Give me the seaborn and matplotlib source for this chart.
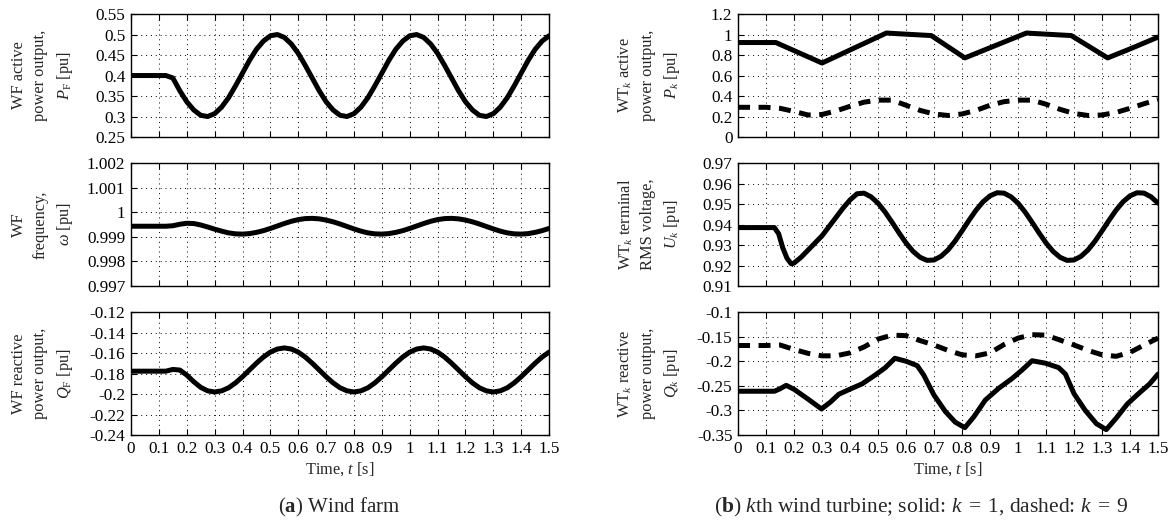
import numpy as np
import pandas as pd
import matplotlib
matplotlib.use("Agg")
import matplotlib.pyplot as plt
import seaborn as sns

# values

# shared 25 ms time grid for the wind farm traces
t_grid = np.round(np.arange(0, 1.5001, 0.025), 3)

wf_p = [0.4, 0.4, 0.4, 0.4, 0.4, 0.4, 0.394, 0.363, 0.336, 0.316, 0.303, 0.300,
        0.307, 0.323, 0.346, 0.375, 0.406, 0.437, 0.464, 0.484, 0.497, 0.500,
        0.493, 0.477, 0.454, 0.425, 0.394, 0.363, 0.336, 0.316, 0.303, 0.300,
        0.307, 0.323, 0.346, 0.375, 0.406, 0.437, 0.464, 0.484, 0.497, 0.500,
        0.493, 0.477, 0.454, 0.425, 0.394, 0.363, 0.336, 0.316, 0.303, 0.300,
        0.307, 0.323, 0.346, 0.375, 0.406, 0.437, 0.464, 0.484, 0.497]

wf_w = [0.99943, 0.99943, 0.99943, 0.99943, 0.99943, 0.99943, 0.99945, 0.99951,
        0.99955, 0.99954, 0.99948, 0.99940, 0.99931, 0.99923, 0.99916, 0.99912,
        0.99911, 0.99913, 0.99918, 0.99925, 0.99934, 0.99944, 0.99954, 0.99963,
        0.99970, 0.99974, 0.99975, 0.99973, 0.99968, 0.99961, 0.99952, 0.99942,
        0.99932, 0.99923, 0.99916, 0.99912, 0.99911, 0.99913, 0.99918, 0.99925,
        0.99934, 0.99944, 0.99954, 0.99963, 0.99970, 0.99974, 0.99975, 0.99973,
        0.99968, 0.99961, 0.99952, 0.99942, 0.99932, 0.99923, 0.99916, 0.99912,
        0.99911, 0.99913, 0.99918, 0.99925, 0.99934]

wf_q = [-0.1777, -0.1777, -0.1777, -0.1777, -0.1777, -0.1777, -0.1760, -0.1766,
        -0.1815, -0.1880, -0.1935, -0.1969, -0.1980, -0.1969, -0.1939, -0.1891,
        -0.1831, -0.1765, -0.1699, -0.1639, -0.1591, -0.1561, -0.1550, -0.1561,
        -0.1591, -0.1639, -0.1699, -0.1765, -0.1831, -0.1891, -0.1939, -0.1969,
        -0.1980, -0.1969, -0.1939, -0.1891, -0.1831, -0.1765, -0.1699, -0.1639,
        -0.1591, -0.1561, -0.1550, -0.1561, -0.1591, -0.1639, -0.1699, -0.1765,
        -0.1831, -0.1891, -0.1939, -0.1969, -0.1980, -0.1969, -0.1939, -0.1891,
        -0.1831, -0.1765, -0.1699, -0.1639, -0.1591]

# turbine k=1 active power (solid)
t_pk1 = [0, 0.135, 0.3, 0.53, 0.545, 0.69, 0.81, 1.03, 1.045, 1.19, 1.32, 1.4, 1.5]
pk1 = [0.922, 0.922, 0.722, 1.015, 1.012, 0.99, 0.772, 1.015, 1.012, 0.99, 0.772, 0.86, 0.975]

# turbine k=9 active power (dashed), 50 ms steps
t_50 = np.round(np.arange(0, 1.5001, 0.05), 2)
pk9 = [0.29, 0.29, 0.29, 0.28, 0.25, 0.215, 0.22, 0.255, 0.30, 0.34, 0.36,
       0.36, 0.31, 0.26, 0.225, 0.21, 0.225, 0.26, 0.31, 0.345, 0.36, 0.36,
       0.32, 0.27, 0.23, 0.21, 0.215, 0.24, 0.28, 0.325, 0.365]

# turbine terminal voltage
t_uk = np.concatenate([[0, 0.05, 0.1, 0.13, 0.145, 0.16, 0.175, 0.19],
                       np.round(np.arange(0.2, 1.5001, 0.025), 3)])
uk1 = [0.9385, 0.9385, 0.9385, 0.9385, 0.9355, 0.9285, 0.9235, 0.9208,
       0.9212, 0.9240, 0.9275, 0.9310, 0.9345, 0.9390, 0.9435, 0.9480, 0.9520,
       0.9550, 0.9553, 0.9535, 0.9504, 0.9461, 0.9411, 0.9359, 0.9310, 0.9269,
       0.9240, 0.9225, 0.9227, 0.9245, 0.9276, 0.9319, 0.9369, 0.9421, 0.9470,
       0.9511, 0.9540, 0.9555, 0.9553, 0.9535, 0.9504, 0.9461, 0.9411, 0.9359,
       0.9310, 0.9269, 0.9240, 0.9225, 0.9227, 0.9245, 0.9276, 0.9319, 0.9369,
       0.9421, 0.9470, 0.9511, 0.9540, 0.9555, 0.9553, 0.9535, 0.9504]

# turbine reactive power
t_qk1 = [0, 0.13, 0.15, 0.172, 0.2, 0.25, 0.298, 0.33, 0.36, 0.395, 0.443, 0.49,
         0.526, 0.56, 0.6, 0.64, 0.663, 0.699, 0.74, 0.776, 0.81, 0.842, 0.883,
         0.931, 0.979, 1.014, 1.05, 1.098, 1.145, 1.169, 1.2, 1.24, 1.28, 1.315,
         1.35, 1.39, 1.43, 1.47, 1.5]
qk1 = [-0.261, -0.261, -0.256, -0.249, -0.257, -0.277, -0.297, -0.283, -0.267,
       -0.258, -0.246, -0.228, -0.213, -0.194, -0.200, -0.209, -0.228, -0.268,
       -0.302, -0.324, -0.335, -0.313, -0.279, -0.255, -0.235, -0.218, -0.199,
       -0.204, -0.213, -0.226, -0.266, -0.300, -0.327, -0.339, -0.316, -0.287,
       -0.266, -0.246, -0.226]
qk9 = [-0.168, -0.168, -0.168, -0.167, -0.176, -0.184, -0.189, -0.189, -0.183,
       -0.171, -0.155, -0.147, -0.148, -0.158, -0.167, -0.178, -0.187, -0.189,
       -0.183, -0.166, -0.153, -0.146, -0.147, -0.157, -0.167, -0.178, -0.187,
       -0.190, -0.182, -0.167, -0.153]

# ticks
x_ticks = [i / 10 for i in range(16)]
x_labels = ['0', '0.1', '0.2', '0.3', '0.4', '0.5', '0.6', '0.7', '0.8', '0.9',
            '1', '1.1', '1.2', '1.3', '1.4', '1.5']
yt_wf_p = ['0.25', '0.3', '0.35', '0.4', '0.45', '0.5', '0.55']
yt_wf_w = ['0.997', '0.998', '0.999', '1', '1.001', '1.002']
yt_wf_q = ['-0.24', '-0.22', '-0.2', '-0.18', '-0.16', '-0.14', '-0.12']
yt_pk = ['0', '0.2', '0.4', '0.6', '0.8', '1', '1.2']
yt_uk = ['0.91', '0.92', '0.93', '0.94', '0.95', '0.96', '0.97']
yt_qk = ['-0.35', '-0.3', '-0.25', '-0.2', '-0.15', '-0.1']

sns.set_theme(style="ticks")
plt.rcParams['font.family'] = ['Liberation Serif', 'DejaVu Serif']
plt.rcParams['mathtext.fontset'] = 'custom'
plt.rcParams['mathtext.rm'] = 'Liberation Serif'
plt.rcParams['mathtext.it'] = 'Liberation Serif:italic'
plt.rcParams['mathtext.bf'] = 'Liberation Serif:bold'
plt.rcParams['axes.unicode_minus'] = False

FS = 12.3
LFS = 11.8
LW = 3.6
DASH = (0, (2.4, 1.7))

fig = plt.figure(figsize=(11.7, 5.24), dpi=100)

lefts = [0.112, 0.6308]
widths = [0.3573, 0.359]
bottoms = [0.7385, 0.4542, 0.1698]
H = 0.2347

axes = {}
for c in range(2):
    for r in range(3):
        axes[(r, c)] = fig.add_axes([lefts[c], bottoms[r], widths[c], H])


def style(ax, yticks, ylabels, ylabel, bottom_row):
    ax.set_xlim(0, 1.5)
    ax.set_ylim(float(ylabels[0]), float(ylabels[-1]))
    ax.set_xticks(x_ticks)
    ax.set_yticks(yticks)
    ax.set_yticklabels(ylabels)
    if bottom_row:
        ax.set_xticklabels(x_labels)
        ax.set_xlabel("Time, $t$ [s]", fontsize=LFS, labelpad=3)
    else:
        ax.set_xticklabels([])
        ax.set_xlabel("")
    ax.tick_params(direction='in', top=True, right=True, length=4, width=0.8,
                   labelsize=FS, pad=4, colors='black')
    ax.grid(True, color='black', linestyle=(0, (1, 4)), linewidth=0.7)
    for s in ax.spines.values():
        s.set_color('black')
        s.set_linewidth(1.0)
        s.set_visible(True)
    ax.set_ylabel(ylabel, fontsize=LFS, rotation=90, ha='center', va='center',
                  linespacing=1.45)
    ax.yaxis.set_label_coords(-0.211, 0.5)


def draw(ax, t, v, dashed=False):
    ls = DASH if dashed else '-'
    sns.lineplot(x=np.asarray(t, dtype=float), y=np.asarray(v, dtype=float),
                 ax=ax, color='black', linewidth=LW, linestyle=ls,
                 estimator=None, sort=False, legend=False)


# (a) wind farm
draw(axes[(0, 0)], t_grid, wf_p)
style(axes[(0, 0)], [float(s) for s in yt_wf_p], yt_wf_p,
      "WF active\npower output,\n$P_\\mathrm{F}$ [pu]", False)

draw(axes[(1, 0)], t_grid, wf_w)
style(axes[(1, 0)], [float(s) for s in yt_wf_w], yt_wf_w,
      "WF\nfrequency,\n$\\omega$ [pu]", False)

draw(axes[(2, 0)], t_grid, wf_q)
style(axes[(2, 0)], [float(s) for s in yt_wf_q], yt_wf_q,
      "WF reactive\npower output,\n$Q_\\mathrm{F}$ [pu]", True)

# (b) turbines
draw(axes[(0, 1)], t_pk1, pk1)
draw(axes[(0, 1)], t_50, pk9, dashed=True)
style(axes[(0, 1)], [float(s) for s in yt_pk], yt_pk,
      "WT$_k$ active\npower output,\n$P_k$ [pu]", False)

draw(axes[(1, 1)], t_uk, uk1)
style(axes[(1, 1)], [float(s) for s in yt_uk], yt_uk,
      "WT$_k$ terminal\nRMS voltage,\n$U_k$ [pu]", False)

draw(axes[(2, 1)], t_qk1, qk1)
draw(axes[(2, 1)], t_50, qk9, dashed=True)
style(axes[(2, 1)], [float(s) for s in yt_qk], yt_qk,
      "WT$_k$ reactive\npower output,\n$Q_k$ [pu]", True)

fig.text(0.29, 0.031, r"($\mathbf{a}$) Wind farm", fontsize=15,
         ha='center', va='center')
fig.text(0.787, 0.031,
         r"($\mathbf{b}$) $k$th wind turbine; solid: $k\;=\;1$, dashed: $k\;=\;9$",
         fontsize=15.5, ha='center', va='center')

fig.savefig("out.png", dpi=100)
